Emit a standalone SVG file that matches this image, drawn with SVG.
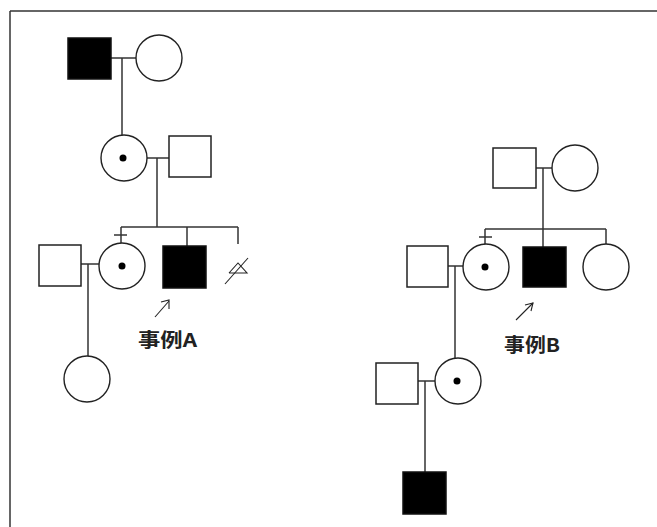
<svg xmlns="http://www.w3.org/2000/svg" width="657" height="527" viewBox="0 0 657 527">
<style>
.sq{fill:#fff;stroke:#222;stroke-width:1.5}
.aff{fill:#000;stroke:#111;stroke-width:1.5}
.ci{fill:#fff;stroke:#222;stroke-width:1.4}
.dot{fill:#000}
.ln{stroke:#333;stroke-width:1.5;fill:none}
.thin{stroke:#222;stroke-width:1.1;fill:none}
.lbl{font-family:"Noto Sans CJK SC","Liberation Sans",sans-serif;font-weight:bold;font-size:19px;fill:#222}
</style>
<rect width="657" height="527" fill="#fff"/>
<g id="frame" class="ln" stroke="#555">
<line x1="10" y1="11" x2="657" y2="11"/>
<line x1="10" y1="11" x2="10" y2="527"/>
</g>
<g id="connectors">
<!-- Family A -->
<line class="ln" x1="111" y1="58" x2="136" y2="58"/>
<line class="ln" x1="122" y1="58" x2="122" y2="135"/>
<line class="ln" x1="147" y1="158" x2="169" y2="158"/>
<line class="ln" x1="157" y1="158" x2="157" y2="227"/>
<line class="ln" x1="121" y1="227" x2="238" y2="227"/>
<line class="ln" x1="121" y1="227" x2="121" y2="243"/>
<line class="ln" x1="114" y1="235" x2="127" y2="235"/>
<line class="ln" x1="187" y1="227" x2="187" y2="246"/>
<line class="ln" x1="238" y1="227" x2="238" y2="244"/>
<line class="ln" x1="81" y1="264" x2="99" y2="264"/>
<line class="ln" x1="88" y1="264" x2="88" y2="356"/>
<!-- Family B -->
<line class="ln" x1="536" y1="168" x2="552" y2="168"/>
<line class="ln" x1="543" y1="168" x2="543" y2="247"/>
<line class="ln" x1="485" y1="229" x2="606" y2="229"/>
<line class="ln" x1="485" y1="229" x2="485" y2="244"/>
<line class="ln" x1="479" y1="237" x2="492" y2="237"/>
<line class="ln" x1="606" y1="229" x2="606" y2="244"/>
<line class="ln" x1="448" y1="266" x2="463" y2="266"/>
<line class="ln" x1="455" y1="266" x2="455" y2="358"/>
<line class="ln" x1="418" y1="381" x2="435" y2="381"/>
<line class="ln" x1="425" y1="381" x2="425" y2="472"/>
</g>
<!-- Family A nodes -->
<g id="a-grandfather"><rect class="aff" x="68" y="38" width="43" height="41"/></g>
<g id="a-grandmother"><circle class="ci" cx="159" cy="58" r="23"/></g>
<g id="a-mother"><circle class="ci" cx="124" cy="158" r="23"/><circle class="dot" cx="123" cy="158" r="3.5"/></g>
<g id="a-father"><rect class="sq" x="169" y="136" width="42" height="41"/></g>
<g id="a-sister-husband"><rect class="sq" x="39" y="245" width="42" height="41"/></g>
<g id="a-sister"><circle class="ci" cx="122" cy="266" r="23"/><circle class="dot" cx="122" cy="266" r="3.5"/></g>
<g id="a-proband"><rect class="aff" x="163" y="246" width="43" height="42"/></g>
<g id="a-abortion" class="thin">
<polyline points="229,273 238,263 247,273 229,273"/>
<line x1="225" y1="284" x2="248" y2="258"/>
</g>
<g id="a-niece"><circle class="ci" cx="87" cy="379" r="23"/></g>
<g id="a-arrow" class="thin">
<line x1="155" y1="317" x2="169" y2="301"/>
<polyline points="161,302 169,300 169,309"/>
</g>
<g id="a-label"><text class="lbl" x="138" y="347" textLength="59" lengthAdjust="spacingAndGlyphs">事例A</text></g>
<!-- Family B nodes -->
<g id="b-grandfather"><rect class="sq" x="493" y="148" width="43" height="40"/></g>
<g id="b-grandmother"><circle class="ci" cx="575" cy="168" r="23"/></g>
<g id="b-sister-husband"><rect class="sq" x="407" y="246" width="41" height="41"/></g>
<g id="b-sister"><circle class="ci" cx="486" cy="267" r="23"/><circle class="dot" cx="485" cy="267" r="3.5"/></g>
<g id="b-proband"><rect class="aff" x="523" y="247" width="43" height="40"/></g>
<g id="b-sister2"><circle class="ci" cx="606" cy="267" r="23"/></g>
<g id="b-niece-husband"><rect class="sq" x="376" y="363" width="42" height="41"/></g>
<g id="b-niece"><circle class="ci" cx="458" cy="381" r="23"/><circle class="dot" cx="457" cy="381" r="3.5"/></g>
<g id="b-grandnephew"><rect class="aff" x="403" y="472" width="43" height="42"/></g>
<g id="b-arrow" class="thin">
<line x1="516" y1="320" x2="533" y2="303"/>
<polyline points="525,305 533,303 531,311"/>
</g>
<g id="b-label"><text class="lbl" x="504" y="352" textLength="56" lengthAdjust="spacingAndGlyphs">事例B</text></g>
</svg>
